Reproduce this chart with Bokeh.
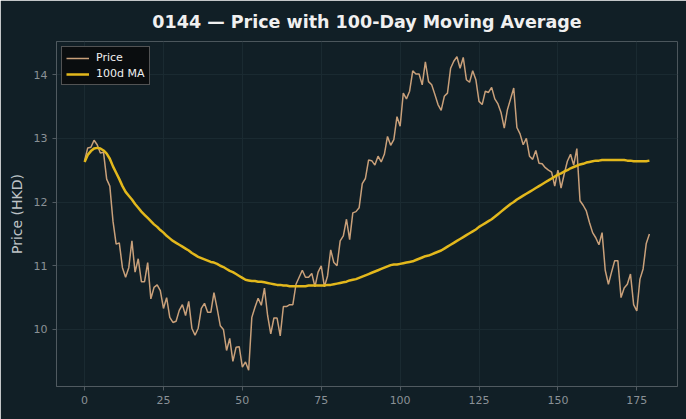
from bokeh.plotting import figure
from bokeh.models import ColumnDataSource, Legend, LegendItem, FixedTicker, Range1d
from bokeh.embed import file_html
from bokeh.resources import INLINE

days = list(range(180))
price = [
    12.65, 12.85, 12.86, 12.97, 12.90, 12.77, 12.78, 12.36, 12.25, 11.70,
    11.34, 11.36, 10.97, 10.82, 10.97, 11.39, 10.90, 11.11, 10.75, 10.75,
    11.05, 10.48, 10.66, 10.70, 10.61, 10.33, 10.50, 10.19, 10.11, 10.13,
    10.30, 10.39, 10.22, 10.44, 10.02, 9.91, 10.02, 10.33, 10.41, 10.27,
    10.27, 10.58, 10.33, 10.06, 10.00, 9.67, 9.86, 9.50, 9.72, 9.73,
    9.41, 9.49, 9.36, 10.19, 10.35, 10.49, 10.38, 10.65, 10.22, 9.93,
    10.18, 10.18, 9.90, 10.36, 10.36, 10.39, 10.39, 10.71, 10.82, 10.93,
    10.82, 10.82, 10.88, 10.67, 10.90, 11.00, 10.67, 10.84, 11.25, 11.05,
    11.00, 11.39, 11.47, 11.73, 11.41, 11.83, 11.85, 11.91, 12.29, 12.37,
    12.66, 12.65, 12.58, 12.72, 12.63, 12.75, 13.03, 12.89, 12.98, 13.34,
    13.19, 13.71, 13.62, 13.74, 14.06, 14.01, 14.01, 13.84, 14.20, 13.89,
    13.84, 13.69, 13.53, 13.44, 13.66, 13.71, 14.10, 14.21, 14.28, 14.10,
    14.27, 13.92, 13.88, 14.06, 13.92, 13.58, 13.53, 13.74, 13.72, 13.80,
    13.62, 13.54, 13.40, 13.16, 13.45, 13.62, 13.79, 13.17, 13.07, 12.90,
    13.00, 12.72, 12.67, 12.81, 12.61, 12.60, 12.54, 12.50, 12.47, 12.25,
    12.50, 12.22, 12.44, 12.64, 12.75, 12.58, 12.84, 12.02, 11.95, 11.86,
    11.68, 11.52, 11.44, 11.33, 11.52, 10.93, 10.71, 10.90, 11.08, 11.08,
    10.50, 10.65, 10.71, 10.87, 10.39, 10.29, 10.79, 10.95, 11.35, 11.50,
]
ma100 = [
    12.63, 12.74, 12.80, 12.84, 12.85, 12.84, 12.81, 12.76, 12.68, 12.56,
    12.46, 12.36, 12.25, 12.16, 12.10, 12.04, 11.97, 11.91, 11.85, 11.80,
    11.75, 11.70, 11.65, 11.61, 11.56, 11.52, 11.47, 11.43, 11.39, 11.36,
    11.33, 11.30, 11.27, 11.24, 11.20, 11.17, 11.14, 11.12, 11.10, 11.08,
    11.06, 11.05, 11.03, 11.00, 10.98, 10.95, 10.92, 10.90, 10.87, 10.84,
    10.81, 10.78, 10.77, 10.76, 10.76, 10.75, 10.75, 10.74, 10.73, 10.72,
    10.71, 10.70, 10.70, 10.69, 10.69, 10.68, 10.68, 10.68, 10.68, 10.68,
    10.68, 10.69, 10.69, 10.69, 10.69, 10.69, 10.69, 10.70, 10.70, 10.71,
    10.72, 10.73, 10.74, 10.75, 10.77, 10.78, 10.79, 10.81, 10.83, 10.85,
    10.87, 10.89, 10.91, 10.93, 10.95, 10.97, 10.99, 11.01, 11.02, 11.02,
    11.03, 11.04, 11.05, 11.06, 11.07, 11.09, 11.11, 11.13, 11.15, 11.16,
    11.18, 11.20, 11.22, 11.24, 11.27, 11.30, 11.33, 11.36, 11.39, 11.42,
    11.45, 11.48, 11.51, 11.54, 11.57, 11.61, 11.64, 11.67, 11.70, 11.73,
    11.77, 11.81, 11.85, 11.89, 11.93, 11.97, 12.00, 12.04, 12.07, 12.10,
    12.13, 12.16, 12.19, 12.22, 12.25, 12.28, 12.31, 12.34, 12.37, 12.40,
    12.43, 12.45, 12.48, 12.50, 12.53, 12.55, 12.57, 12.59, 12.60, 12.62,
    12.63, 12.64, 12.65, 12.65, 12.66, 12.66, 12.66, 12.66, 12.66, 12.66,
    12.66, 12.66, 12.65, 12.65, 12.64, 12.64, 12.64, 12.64, 12.64, 12.65,
]
x_ticks = [0, 25, 50, 75, 100, 125, 150, 175]
y_ticks = [10, 11, 12, 13, 14]

BG = "#111f26"
FONT = "DejaVu Sans"

src = ColumnDataSource(dict(day=days, price=price, ma=ma100))

p = figure(width=686, height=419, output_backend="svg", toolbar_location=None,
           x_range=Range1d(-8.9, 187.9), y_range=Range1d(9.105, 14.52),
           min_border_left=56, min_border_right=9, min_border_top=40, min_border_bottom=33)
p.background_fill_color = BG
p.border_fill_color = BG
p.outline_line_color = None

p.title.text = "0144 \u2014 Price with 100-Day Moving Average"
p.title.align = "center"
p.title.text_color = "#f0f0f0"
p.title.text_font = FONT
p.title.text_font_size = "17.5px"
p.title.text_font_style = "bold"
p.title.offset = 0
p.title.standoff = 19

r1 = p.line("day", "price", source=src, line_color="#c9a07a", line_width=1.5)
r2 = p.line("day", "ma", source=src, line_color="#e3b81c", line_width=2.5)

for ax in (p.xaxis[0], p.yaxis[0]):
    ax.axis_line_color = "#505a60"
    ax.major_tick_line_color = "#505a60"
    ax.major_tick_in = 0
    ax.major_tick_out = 4
    ax.minor_tick_line_color = None
    ax.major_label_text_color = "#8a9196"
    ax.major_label_text_font = FONT
    ax.major_label_text_font_size = "11px"
    ax.major_label_standoff = 5

p.xaxis[0].ticker = FixedTicker(ticks=x_ticks)
p.yaxis[0].ticker = FixedTicker(ticks=y_ticks)
p.yaxis[0].axis_label = "Price (HKD)"
p.yaxis[0].axis_label_text_color = "#bfc4c7"
p.yaxis[0].axis_label_text_font = FONT
p.yaxis[0].axis_label_text_font_size = "14px"
p.yaxis[0].axis_label_text_font_style = "normal"
p.yaxis[0].axis_label_standoff = 6

p.xgrid.grid_line_color = "#1a2a31"
p.ygrid.grid_line_color = "#1a2a31"
p.xgrid.grid_line_width = 1
p.ygrid.grid_line_width = 1

legend = Legend(items=[LegendItem(label="Price", renderers=[r1]),
                       LegendItem(label="100d MA", renderers=[r2])],
                location="top_left")
legend.background_fill_color = "#0a0d0f"
legend.background_fill_alpha = 1.0
legend.border_line_color = "#9a9a9a"
legend.border_line_width = 1
legend.label_text_color = "#f0f0f0"
legend.label_text_font = FONT
legend.label_text_font_size = "11px"
legend.glyph_width = 23
legend.glyph_height = 12
legend.label_height = 12
legend.label_standoff = 7
legend.spacing = 3
legend.padding = 4
legend.margin = 5
p.add_layout(legend)

open("out.html", "w").write(file_html(p, INLINE))
